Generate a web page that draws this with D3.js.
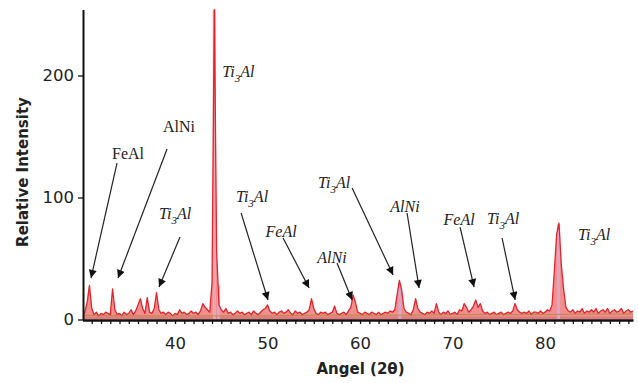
<!DOCTYPE html>
<html><head><meta charset="utf-8">
<script src="https://cdn.jsdelivr.net/npm/d3@7"></script>
<style>
html,body{margin:0;padding:0;background:#fff;}
svg{display:block;}
</style></head>
<body>
<svg id="chart" width="638" height="383"></svg>
<script>
// ---- data ----
const angleStart = 30.0, angleStep = 0.25;
// relative intensity read every 0.25 deg, 30.00 .. 89.50
const intensity = [
 3, 6, 14, 28,   9, 4, 6, 3,   5, 4, 6, 5,   4, 25, 8, 4,   5, 3, 6, 4,
 5, 8, 4, 7,   12, 17, 9, 5,   18, 6, 5, 9,   22, 8, 5, 6,   4, 6, 5, 3,
 5, 4, 8, 5,   6, 4, 5, 7,   5, 6, 4, 7,   13, 10, 8, 6,   30, 254, 55, 12,
 8, 6, 9, 5,   6, 4, 5, 7,   5, 6, 4, 5,   6, 4, 7, 5,   4, 6, 8, 9,
 12, 7, 5, 6,   4, 6, 7, 5,   6, 8, 5, 4,   7, 5, 6, 4,   5, 6, 8, 17,
 9, 5, 4, 6,   5, 6, 4, 5,   6, 11, 5, 4,   5, 6, 4, 7,   10, 20, 14, 6,
 5, 4, 6, 5,   4, 6, 5, 4,   6, 4, 5, 6,   5, 7, 6, 8,   20, 32, 24, 9,
 6, 5, 4, 8,   17, 9, 6, 5,   4, 6, 5, 7,   5, 13, 6, 4,   6, 5, 7, 4,
 5, 6, 4, 8,   7, 13, 10, 6,   8, 11, 16, 10,   13, 7, 5, 6,   4, 5, 6, 4,
 5, 6, 4, 5,   6, 5, 7, 13,   8, 6, 5, 6,   5, 7, 4, 6,   6, 5, 7, 5,
 6, 8, 7, 12,   40, 70, 79, 45,   25, 10, 7, 6,   8, 5, 7, 6,   9, 5, 7, 6,
 8, 6, 9, 5,   7, 8, 6, 9,   5, 7, 8, 6,   7, 9, 5, 7,   8, 6, 7
];
// background line, every 5 deg
const bgAngles = [30, 35, 40, 45, 50, 55, 60, 65, 70, 75, 80, 85, 89.5];
const bgValues = [3.5, 3, 3, 3, 3, 3.5, 3.5, 3.5, 4, 4, 4, 4.5, 4.5];
// reference sticks
const stickAngles = [44.25, 44.7, 64.3, 81.45];
const stickValues = [254, 28, 28, 78];
// ticks
const xTickLabels = [40, 50, 60, 70, 80];
const yTickValues = [0, 100, 200];
// annotations: label, italic, text position (angle,intensity), arrow start, arrow tip
const annLabels   = ["Ti3Al","FeAl","AlNi","Ti3Al","Ti3Al","FeAl","AlNi","Ti3Al","AlNi","FeAl","Ti3Al","Ti3Al"];
const annItalic   = [true, false, false, true, true, true, true, true, true, true, true, true];
const annTextA    = [46.84, 34.92, 40.43, 40.0, 48.32, 51.46, 56.97, 57.19, 64.86, 70.70, 75.46, 85.30];
const annTextI    = [198.8, 131.6, 153.7, 82.2, 96.3, 67.6, 46.3, 107.8, 88.1, 77.5, 78.3, 65.2];
const annFromA    = [null, 33.73, 39.14, 40.54, 47.14, 51.68, 57.51, 59.14, 65.08, 70.81, 75.35, null];
const annFromI    = [null, 128.2, 139.8, 67.6, 87.3, 66.8, 46.3, 107.8, 87.3, 75.8, 66.8, null];
const annToA      = [null, 30.92, 33.84, 38.27, 50.05, 54.49, 59.14, 63.57, 66.38, 72.32, 76.76, null];
const annToI      = [null, 34.0, 34.0, 26.6, 16.0, 25.8, 16.0, 36.5, 25.8, 26.6, 16.0, null];

// ---- chart ----
const svg = d3.select("#chart");
const x = d3.scaleLinear().domain([30, 89.5]).range([82.5, 633]);
const y = d3.scaleLinear().domain([0, 254]).range([319.5, 9.6]);

const pts = intensity.map((v, i) => ({a: angleStart + i * angleStep, v}));

const defs = svg.append("defs");
defs.append("clipPath").attr("id","clip")
  .append("rect").attr("x", 83).attr("y", 0).attr("width", 551).attr("height", 320);

const plot = svg.append("g").attr("clip-path","url(#clip)");

// baseline grey strip
plot.append("line").attr("x1", x(30)).attr("x2", x(89.5))
  .attr("y1", y(1.5)).attr("y2", y(1.5))
  .attr("stroke", "#d8d8d8").attr("stroke-width", 2.5);

// area
plot.append("path").datum(pts)
  .attr("d", d3.area().x(d => x(d.a)).y0(y(0)).y1(d => y(d.v)))
  .attr("fill", "rgba(232,50,50,0.55)");

// reference sticks
plot.selectAll("rect.stick").data(stickAngles).join("rect")
  .attr("class","stick")
  .attr("x", (d) => x(d) - 1.6).attr("width", 3.2)
  .attr("y", (d, i) => y(stickValues[i]))
  .attr("height", (d, i) => y(0) - y(stickValues[i]))
  .attr("fill", (d, i) => i === 0 ? "#eea7b0" : "#d9a8c8")
  .attr("opacity", 0.9);

plot.append("path").datum(pts)
  .attr("d", d3.line().x(d => x(d.a)).y(d => y(d.v)))
  .attr("fill", "none").attr("stroke", "#e3242b").attr("stroke-width", 1.3)
  .attr("stroke-linejoin","round");

plot.append("path").datum(bgAngles.map((a, i) => ({a, v: bgValues[i]})))
  .attr("d", d3.line().x(d => x(d.a)).y(d => y(d.v)).curve(d3.curveMonotoneX))
  .attr("fill", "none").attr("stroke", "#9c8a2a").attr("stroke-width", 1).attr("opacity", 0.7);

// axes
const xAxis = d3.axisBottom(x)
  .tickValues(d3.range(31, 90))
  .tickFormat(d => xTickLabels.includes(d) ? d : "")
  .tickSize(4).tickSizeOuter(0).tickPadding(13);
const gx = svg.append("g").attr("transform", "translate(0,320)").call(xAxis);
gx.select(".domain").attr("stroke", "#111").attr("stroke-width", 2.6);
gx.selectAll(".tick line").attr("stroke", "#111").attr("stroke-width", 1.3);
gx.selectAll(".tick text").attr("font-family", "DejaVu Sans, Verdana, sans-serif")
  .attr("font-size", 16.5).attr("fill", "#222");

const yAxis = d3.axisLeft(y).tickValues(yTickValues).tickSize(5).tickSizeOuter(0).tickPadding(4);
const gy = svg.append("g").attr("transform", "translate(83,0)").call(yAxis);
gy.select(".domain").attr("stroke", "#111").attr("stroke-width", 2);
gy.selectAll(".tick line").attr("stroke", "#111").attr("stroke-width", 1.3);
gy.selectAll(".tick text").attr("font-family", "DejaVu Sans, Verdana, sans-serif")
  .attr("font-size", 16.5).attr("fill", "#222");

// axis titles
svg.append("text").attr("transform", "translate(28,172) rotate(-90)")
  .attr("text-anchor", "middle")
  .attr("font-family", "DejaVu Sans, Verdana, sans-serif").attr("font-weight", "bold")
  .attr("font-size", 15).attr("fill", "#222").text("Relative Intensity");
svg.append("text").attr("x", 360.5).attr("y", 374)
  .attr("text-anchor", "middle")
  .attr("font-family", "DejaVu Sans, Verdana, sans-serif").attr("font-weight", "bold")
  .attr("font-size", 15).attr("fill", "#222").text("Angel (2θ)");

// arrow marker
defs.append("marker").attr("id", "arrow")
  .attr("viewBox", "0 0 10 10").attr("refX", 10).attr("refY", 5)
  .attr("markerWidth", 9).attr("markerHeight", 8)
  .attr("markerUnits", "userSpaceOnUse").attr("orient", "auto")
  .append("path").attr("d", "M0,0 L10,5 L0,10 z").attr("fill", "#111");

// annotations
annLabels.forEach((lab, i) => {
  if (annFromA[i] !== null) {
    svg.append("line")
      .attr("x1", x(annFromA[i])).attr("y1", y(annFromI[i]))
      .attr("x2", x(annToA[i])).attr("y2", y(annToI[i]))
      .attr("stroke", "#222").attr("stroke-width", 1.2)
      .attr("marker-end", "url(#arrow)");
  }
  const t = svg.append("text")
    .attr("x", x(annTextA[i])).attr("y", y(annTextI[i]))
    .attr("text-anchor", "middle")
    .attr("font-family", "Liberation Serif, Times New Roman, serif")
    .attr("font-size", 16).attr("fill", "#222")
    .attr("font-style", annItalic[i] ? "italic" : "normal");
  if (lab === "Ti3Al") {
    t.append("tspan").text("Ti");
    t.append("tspan").attr("font-size", 11).attr("dy", 5).text("3");
    t.append("tspan").attr("dy", -5).text("Al");
  } else {
    t.text(lab);
  }
});
</script>
</body></html>
